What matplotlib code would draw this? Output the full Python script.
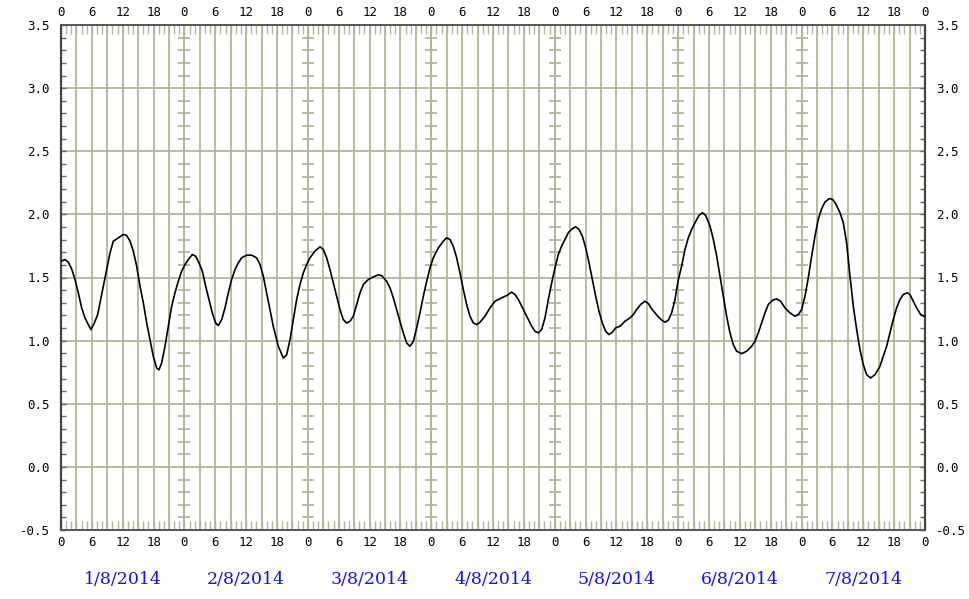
import matplotlib
matplotlib.use("Agg")
import matplotlib.pyplot as plt
from matplotlib.ticker import MultipleLocator, FuncFormatter
import matplotlib.transforms as mtransforms

# ---- data: hours since 1/8/2014 00:00 and the plotted value ----
hours = [0.0, 0.78, 1.43, 2.07, 2.72, 3.37, 4.02, 4.67, 5.31, 5.83, 6.48, 7.13, 7.58, 8.23, 8.88,
         9.53, 10.17, 11.15, 12.12, 12.77, 13.42, 14.06, 14.71, 15.36, 16.01, 16.66, 17.30, 17.95,
         18.60, 19.05, 19.57, 20.22, 20.87, 21.52, 22.16, 22.81, 23.46, 24.11, 24.76, 25.54, 26.18,
         26.83, 27.48, 28.13, 28.77, 29.42, 30.07, 30.59, 31.24, 31.89, 32.53, 33.18, 33.83, 34.48,
         35.13, 36.10, 37.07, 38.04, 38.69, 39.34, 39.99, 40.63, 41.28, 41.93,
         42.26, 43.23, 43.88, 44.53, 45.17, 45.82, 46.47, 47.12, 47.77, 48.41, 49.39, 50.36, 51.01,
         51.66, 52.30, 52.95, 53.60, 54.25, 54.90, 55.54, 56.19, 56.84, 57.49, 58.14, 58.78, 59.76,
         60.73, 61.70, 62.35, 63.32, 63.97, 64.62, 65.27, 65.91, 66.56, 67.21, 67.86, 68.51, 69.15,
         69.80, 70.45, 71.10, 71.75, 72.39, 73.37, 74.34, 74.99, 75.63, 76.28, 76.93, 77.58, 78.23,
         78.88, 79.52, 80.17, 80.82, 81.47, 82.44, 83.41,
         84.39, 85.69, 86.66, 87.63, 88.28, 88.93, 89.57, 90.22, 90.87, 91.52, 92.17, 92.81, 93.46,
         94.11, 94.76, 95.41, 96.06, 96.70, 97.35, 98.00, 98.65, 99.43, 100.07, 100.72, 101.37,
         102.02, 102.67, 103.31, 103.96, 104.61, 105.26, 105.91, 106.55, 107.20, 107.85, 108.69,
         109.67, 110.64, 111.29, 111.93, 112.71, 113.55, 114.20, 114.85, 115.50, 116.15, 116.80,
         117.44, 118.09, 118.74, 119.39, 120.04, 120.68, 121.33, 121.98, 122.63, 123.28, 124.05,
         124.70, 125.35,
         126.19, 126.84, 127.49, 128.13, 128.78, 129.43, 130.08, 130.73, 131.37, 132.35, 133.32,
         134.29, 134.94, 135.59, 136.24, 136.88, 137.53, 138.37, 139.15, 139.93, 140.77, 141.75,
         142.72, 143.37, 144.01, 144.66, 145.31, 145.96, 146.61, 147.25, 147.90, 148.55, 149.39,
         150.04, 150.69, 151.47, 152.11, 152.76, 153.41, 154.06, 154.71, 155.35, 156.00, 156.65,
         157.43, 158.27, 159.24, 159.89, 160.54, 161.19, 161.83, 162.48, 163.13, 163.78, 164.56,
         165.08, 165.73, 166.37, 167.15, 168.0]
values = [1.629, 1.642, 1.621, 1.568, 1.484, 1.378, 1.259, 1.179, 1.127, 1.087, 1.140, 1.206, 1.299,
          1.431, 1.563, 1.695, 1.788, 1.814, 1.841, 1.833, 1.788, 1.709, 1.590, 1.431, 1.299, 1.140,
          1.008, 0.875, 0.783, 0.769, 0.822, 0.955, 1.113, 1.272, 1.378, 1.471, 1.550, 1.603, 1.642,
          1.682, 1.669, 1.616, 1.550, 1.431, 1.325, 1.219, 1.140, 1.119, 1.166, 1.259, 1.378, 1.484,
          1.563, 1.616, 1.656, 1.677, 1.677, 1.656, 1.603, 1.510, 1.378, 1.246, 1.113, 1.008,
          0.955, 0.862, 0.888, 1.008, 1.166, 1.325, 1.444, 1.537, 1.603, 1.656, 1.709, 1.743, 1.722,
          1.656, 1.563, 1.457, 1.351, 1.246, 1.166, 1.140, 1.153, 1.193, 1.285, 1.378, 1.444, 1.484,
          1.505, 1.521, 1.515, 1.470, 1.418, 1.338, 1.246, 1.153, 1.060, 0.981, 0.955, 0.994, 1.100,
          1.219, 1.351, 1.470, 1.576, 1.656, 1.735, 1.788, 1.814, 1.801, 1.748, 1.656, 1.537, 1.404,
          1.285, 1.193, 1.140, 1.127, 1.145, 1.193, 1.259,
          1.312, 1.339, 1.357, 1.384, 1.365, 1.326, 1.273, 1.220, 1.167, 1.114, 1.074, 1.061, 1.088,
          1.180, 1.326, 1.458, 1.577, 1.683, 1.749, 1.802, 1.855, 1.887, 1.902, 1.881, 1.828,
          1.736, 1.617, 1.484, 1.352, 1.233, 1.140, 1.074, 1.048, 1.066, 1.101, 1.114,
          1.154, 1.180, 1.207, 1.246, 1.286, 1.312, 1.294, 1.252, 1.220, 1.188, 1.162,
          1.146, 1.162, 1.220, 1.326, 1.484, 1.590, 1.722, 1.815, 1.881, 1.934, 1.992,
          2.013, 1.992,
          1.908, 1.802, 1.670, 1.511, 1.352, 1.193, 1.061, 0.968, 0.916, 0.897, 0.916,
          0.955, 0.995, 1.061, 1.140, 1.220, 1.286, 1.320, 1.331, 1.312, 1.259, 1.220,
          1.193, 1.207, 1.246, 1.352, 1.498, 1.670, 1.828, 1.961, 2.045, 2.098, 2.125,
          2.119, 2.080, 2.013, 1.934, 1.775, 1.511, 1.273, 1.088, 0.929, 0.810, 0.730,
          0.704, 0.730, 0.797, 0.876, 0.955, 1.061, 1.167, 1.259, 1.326, 1.365, 1.379,
          1.365, 1.312, 1.259, 1.207, 1.188]
day_labels = ["1/8/2014", "2/8/2014", "3/8/2014", "4/8/2014", "5/8/2014", "6/8/2014", "7/8/2014"]

n_days = len(day_labels)
ymin, ymax = -0.5, 3.5
grid_c = "#b5b59c"
spine_c = "#555555"

fig = plt.figure(figsize=(9.7, 5.99), dpi=100)
ax = fig.add_axes([61/970, 1-530/599, (925-61)/970, (530-25)/599])
ax.set_xlim(0, 24*n_days)
ax.set_ylim(ymin, ymax)

ax.xaxis.set_major_locator(MultipleLocator(3))
ax.xaxis.set_minor_locator(MultipleLocator(1))
ax.yaxis.set_major_locator(MultipleLocator(0.5))
ax.yaxis.set_minor_locator(MultipleLocator(0.1))
ax.grid(True, which="major", color=grid_c, linewidth=1.3, zorder=0)
ax.set_axisbelow(True)

# small cross ticks on the day-boundary lines
for d in range(1, n_days):
    ys = [round(ymin + 0.1*k, 1) for k in range(int(round((ymax-ymin)/0.1))+1)]
    ys = [y for y in ys if abs(y*2 - round(y*2)) > 1e-6]
    ax.plot([24*d]*len(ys), ys, ls="none", marker="_", ms=8, mew=1.3, color=grid_c, zorder=1)
    ax.axvline(24*d, color=grid_c, linewidth=1.3, zorder=1)

ax.plot(hours, values, color="black", linewidth=1.2, zorder=3)

fmt = FuncFormatter(lambda v, p: str(int(round(v)) % 24) if abs(v/6 - round(v/6)) < 1e-6 else "")
ax.xaxis.set_major_formatter(fmt)
ax.tick_params(axis="x", which="both", direction="in", top=True, bottom=True,
               labeltop=True, labelbottom=True, length=6.5, width=1, color=grid_c,
               labelsize=9, pad=4)
ax.tick_params(axis="y", which="both", direction="in", left=True, right=True,
               labelleft=True, labelright=True, length=3.5, width=1, color="#666666",
               labelsize=9, pad=8)
ax.yaxis.set_major_formatter(FuncFormatter(lambda v, p: f"{v:.1f}"))
for lab in ax.xaxis.get_ticklabels(which="both") + ax.get_yticklabels():
    lab.set_family("DejaVu Sans Mono")

for side in ["left", "right"]:
    ax.spines[side].set_color("#444444")
    ax.spines[side].set_linewidth(1.6)
for side in ["top", "bottom"]:
    ax.spines[side].set_color(spine_c)
    ax.spines[side].set_linewidth(1.4)

trans = mtransforms.blended_transform_factory(ax.transData, fig.transFigure)
for i, lab in enumerate(day_labels):
    ax.text(24*i + 12, 1 - 580/599, lab, transform=trans, ha="center", va="center",
            color="#1010ff", fontsize=12.5, family="DejaVu Serif")

fig.savefig("out.png", dpi=100)
